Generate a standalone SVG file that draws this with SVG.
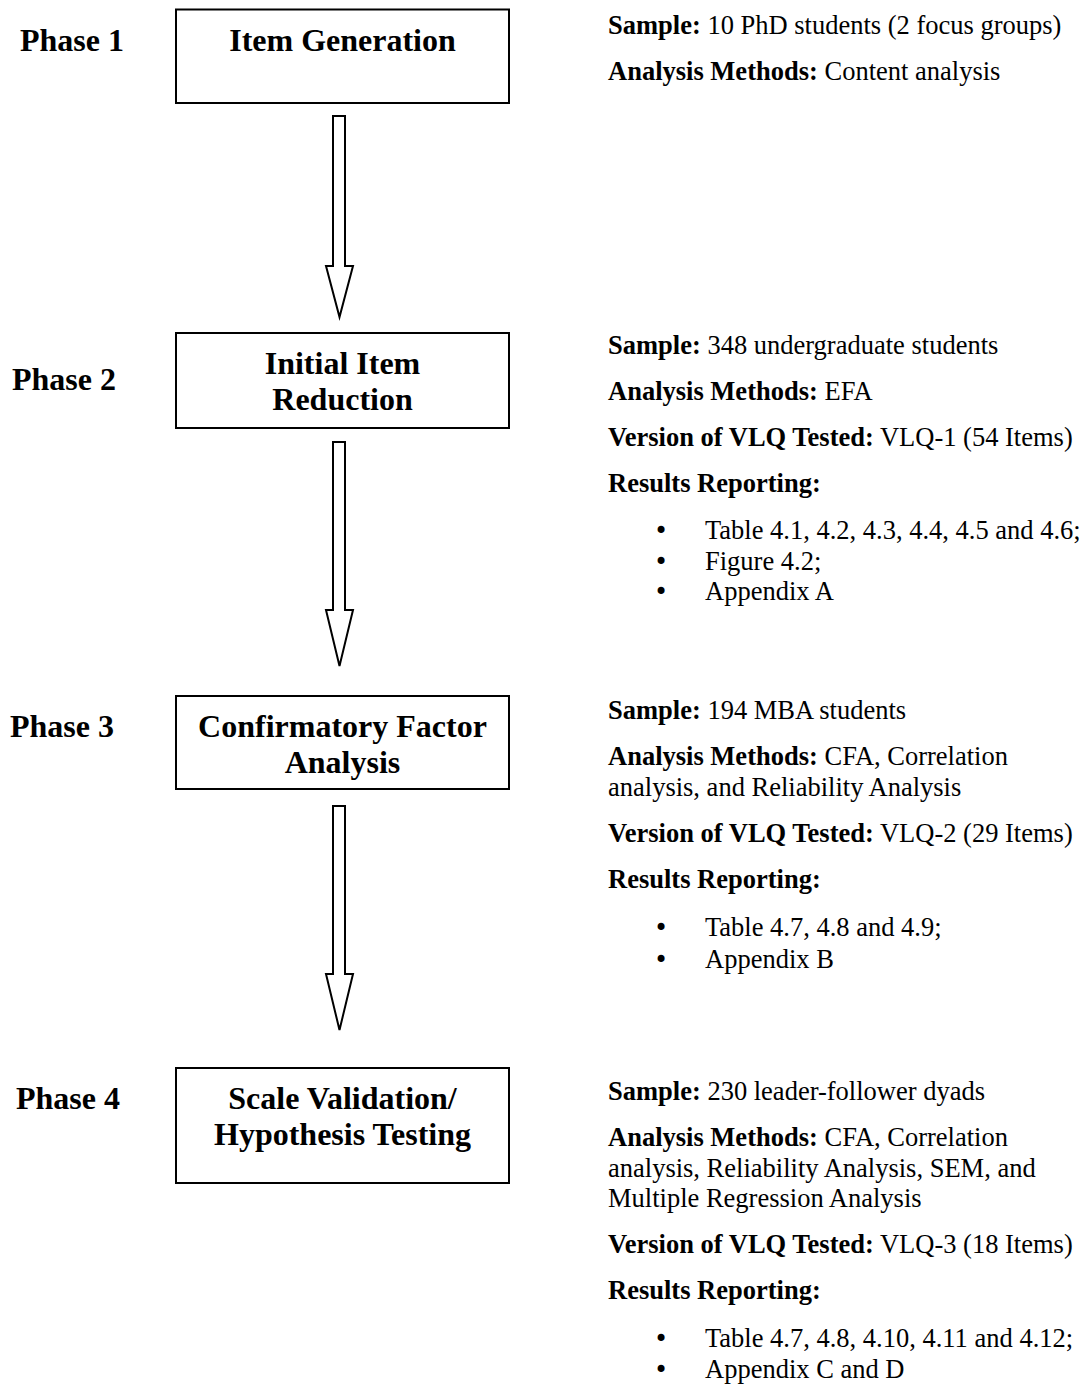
<svg xmlns="http://www.w3.org/2000/svg" width="1090" height="1389" viewBox="0 0 1090 1389">
<style>
.box{fill:#fff;stroke:#000;stroke-width:2}
.arrow{fill:#fff;stroke:#000;stroke-width:2;stroke-linejoin:miter}
.h{font-family:"Liberation Serif","Times New Roman",serif;font-weight:bold;font-size:32px;fill:#000}
.hc{font-family:"Liberation Serif","Times New Roman",serif;font-weight:bold;font-size:32px;fill:#000;text-anchor:middle}
.t{font-family:"Liberation Serif","Times New Roman",serif;font-size:26.5px;fill:#000}
.b{font-weight:bold}
.bu{font-family:"DejaVu Sans",sans-serif;font-size:24px;fill:#000;text-anchor:middle}
</style>
<rect width="1090" height="1389" fill="#fff"/>
<g id="connectors">
<polygon class="arrow" points="333,116 345,116 345,266 353,266 339.5,317 326,266 333,266"/>
<polygon class="arrow" points="333,442 345,442 345,610 353,610 339.5,666 326,610 333,610"/>
<polygon class="arrow" points="333,806 345,806 345,974 353,974 339.5,1030 326,974 333,974"/>
</g>
<g id="phase1">
<text class="h" x="20" y="51">Phase 1</text>
<g id="node1"><rect class="box" x="176" y="9.5" width="333" height="93.5"/>
<text class="hc" x="342.5" y="51">Item Generation</text></g>
<g id="info1">
<text class="t" x="608" y="34"><tspan class="b">Sample:</tspan> 10 PhD students (2 focus groups)</text>
<text class="t" x="608" y="80"><tspan class="b">Analysis Methods:</tspan> Content analysis</text>
</g>
</g>
<g id="phase2">
<text class="h" x="12" y="390">Phase 2</text>
<g id="node2"><rect class="box" x="176" y="333" width="333" height="95"/>
<text class="hc" x="342.5" y="374">Initial Item</text>
<text class="hc" x="342.5" y="410">Reduction</text></g>
<g id="info2">
<text class="t" x="608" y="354"><tspan class="b">Sample:</tspan> 348 undergraduate students</text>
<text class="t" x="608" y="400"><tspan class="b">Analysis Methods:</tspan> EFA</text>
<text class="t" x="608" y="446"><tspan class="b">Version of VLQ Tested:</tspan> VLQ-1 (54 Items)</text>
<text class="t b" x="608" y="492">Results Reporting:</text>
<text class="bu" x="661" y="539">•</text><text class="t" x="705" y="539">Table 4.1, 4.2, 4.3, 4.4, 4.5 and 4.6;</text>
<text class="bu" x="661" y="570">•</text><text class="t" x="705" y="570">Figure 4.2;</text>
<text class="bu" x="661" y="600">•</text><text class="t" x="705" y="600">Appendix A</text>
</g>
</g>
<g id="phase3">
<text class="h" x="10" y="737">Phase 3</text>
<g id="node3"><rect class="box" x="176" y="696" width="333" height="93"/>
<text class="hc" x="342.5" y="737">Confirmatory Factor</text>
<text class="hc" x="342.5" y="773">Analysis</text></g>
<g id="info3">
<text class="t" x="608" y="719"><tspan class="b">Sample:</tspan> 194 MBA students</text>
<text class="t" x="608" y="765"><tspan class="b">Analysis Methods:</tspan> CFA, Correlation</text>
<text class="t" x="608" y="796">analysis, and Reliability Analysis</text>
<text class="t" x="608" y="842"><tspan class="b">Version of VLQ Tested:</tspan> VLQ-2 (29 Items)</text>
<text class="t b" x="608" y="888">Results Reporting:</text>
<text class="bu" x="661" y="936">•</text><text class="t" x="705" y="936">Table 4.7, 4.8 and 4.9;</text>
<text class="bu" x="661" y="968">•</text><text class="t" x="705" y="968">Appendix B</text>
</g>
</g>
<g id="phase4">
<text class="h" x="16" y="1109">Phase 4</text>
<g id="node4"><rect class="box" x="176" y="1068" width="333" height="115"/>
<text class="hc" x="342.5" y="1109">Scale Validation/</text>
<text class="hc" x="342.5" y="1145">Hypothesis Testing</text></g>
<g id="info4">
<text class="t" x="608" y="1100"><tspan class="b">Sample:</tspan> 230 leader-follower dyads</text>
<text class="t" x="608" y="1146"><tspan class="b">Analysis Methods:</tspan> CFA, Correlation</text>
<text class="t" x="608" y="1177">analysis, Reliability Analysis, SEM, and</text>
<text class="t" x="608" y="1207">Multiple Regression Analysis</text>
<text class="t" x="608" y="1253"><tspan class="b">Version of VLQ Tested:</tspan> VLQ-3 (18 Items)</text>
<text class="t b" x="608" y="1299">Results Reporting:</text>
<text class="bu" x="661" y="1347">•</text><text class="t" x="705" y="1347">Table 4.7, 4.8, 4.10, 4.11 and 4.12;</text>
<text class="bu" x="661" y="1378">•</text><text class="t" x="705" y="1378">Appendix C and D</text>
</g>
</g>
</svg>
